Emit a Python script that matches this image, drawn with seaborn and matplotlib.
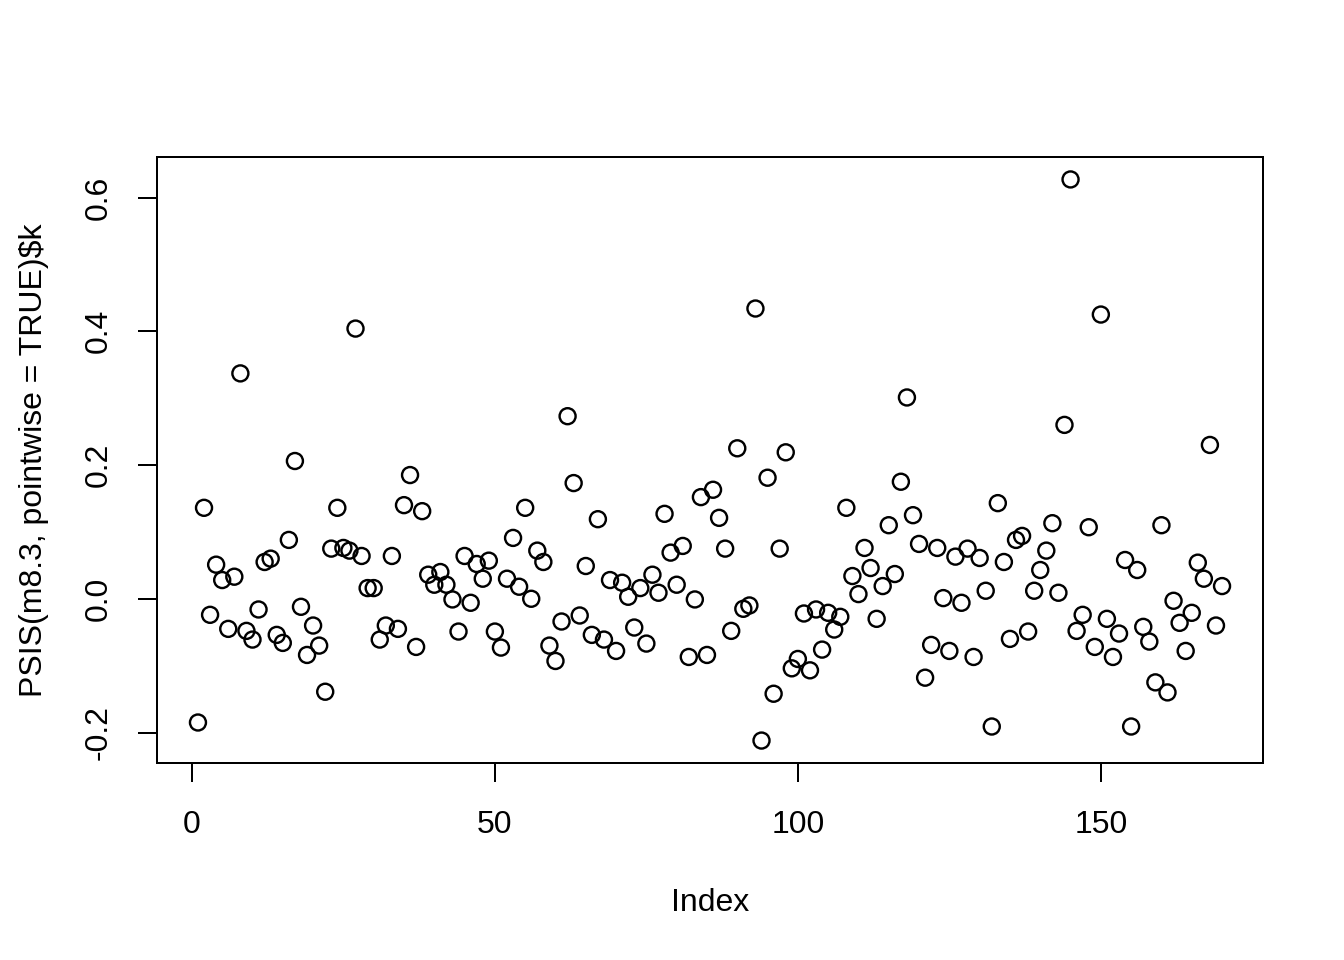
import numpy as np
import pandas as pd
import matplotlib
matplotlib.use("Agg")
import matplotlib.pyplot as plt
import seaborn as sns

k_values = [
    -0.185, 0.136, -0.024, 0.051, 0.028, -0.045, 0.033, 0.337, -0.048, -0.061,
    -0.016, 0.055, 0.060, -0.054, -0.066, 0.088, 0.206, -0.012, -0.084, -0.040,
    -0.070, -0.139, 0.075, 0.136, 0.076, 0.072, 0.404, 0.064, 0.016, 0.016,
    -0.061, -0.040, 0.064, -0.045, 0.140, 0.185, -0.072, 0.131, 0.036, 0.021,
    0.040, 0.021, -0.001, -0.049, 0.064, -0.006, 0.052, 0.030, 0.057, -0.049,
    -0.073, 0.030, 0.091, 0.018, 0.136, 0.000, 0.072, 0.055, -0.070, -0.093,
    -0.034, 0.273, 0.173, -0.025, 0.049, -0.054, 0.119, -0.061, 0.028, -0.078,
    0.024, 0.003, -0.043, 0.016, -0.067, 0.036, 0.009, 0.127, 0.069, 0.021,
    0.079, -0.087, -0.001, 0.152, -0.084, 0.163, 0.121, 0.075, -0.048, 0.225,
    -0.015, -0.010, 0.434, -0.212, 0.181, -0.142, 0.075, 0.219, -0.104, -0.090,
    -0.022, -0.107, -0.016, -0.076, -0.021, -0.046, -0.027, 0.136, 0.034, 0.007,
    0.076, 0.046, -0.030, 0.019, 0.110, 0.037, 0.175, 0.301, 0.125, 0.082,
    -0.118, -0.069, 0.076, 0.001, -0.078, 0.063, -0.006, 0.075, -0.087, 0.061,
    0.012, -0.191, 0.143, 0.055, -0.060, 0.088, 0.094, -0.049, 0.012, 0.043,
    0.072, 0.113, 0.009, 0.260, 0.627, -0.048, -0.024, 0.107, -0.072, 0.425,
    -0.030, -0.087, -0.052, 0.058, -0.191, 0.043, -0.042, -0.064, -0.125, 0.110,
    -0.140, -0.003, -0.036, -0.078, -0.021, 0.054, 0.030, 0.230, -0.040, 0.019,
]
index = list(range(1, len(k_values) + 1))
x_ticks = [0, 50, 100, 150]
y_ticks = [-0.2, 0.0, 0.2, 0.4, 0.6]
y_tick_labels = ["-0.2", "0.0", "0.2", "0.4", "0.6"]

df = pd.DataFrame({"Index": index, "k": k_values})

sns.set_style("white")
plt.rcParams["font.family"] = ["Liberation Sans", "DejaVu Sans"]
plt.rcParams["text.color"] = "black"
plt.rcParams["axes.labelcolor"] = "black"
plt.rcParams["xtick.color"] = "black"
plt.rcParams["ytick.color"] = "black"

fig = plt.figure(figsize=(7, 5), dpi=192)
ax = fig.add_axes([157 / 1344, (960 - 763) / 960, (1263 - 157) / 1344, (763 - 157) / 960])

sns.scatterplot(data=df, x="Index", y="k", ax=ax, marker="o", s=6.0 ** 2,
                facecolors="none", edgecolor="black", linewidth=0.9)

xr = max(index) - min(index)
ax.set_xlim(min(index) - 0.04 * xr, max(index) + 0.04 * xr)
yr = max(k_values) - min(k_values)
ax.set_ylim(min(k_values) - 0.04 * yr, max(k_values) + 0.04 * yr)

ax.set_xticks(x_ticks)
ax.set_xticklabels([str(t) for t in x_ticks])
ax.set_yticks(y_ticks)
ax.set_yticklabels(y_tick_labels, rotation=90, va="center")

for s in ax.spines.values():
    s.set_visible(True)
    s.set_color("black")
    s.set_linewidth(0.75)

ax.tick_params(axis="both", which="major", direction="out", length=7.2, width=0.75,
               color="black", labelsize=12, labelcolor="black")
ax.tick_params(axis="x", pad=10.5, bottom=True)
ax.tick_params(axis="y", pad=9.0, left=True)

ax.set_xlabel("Index", fontsize=12, labelpad=18, color="black")
ax.set_ylabel(r"PSIS(m8.3, pointwise = TRUE)\$k", fontsize=12, labelpad=13, color="black")

fig.savefig("out.png", dpi=192, facecolor="white")
